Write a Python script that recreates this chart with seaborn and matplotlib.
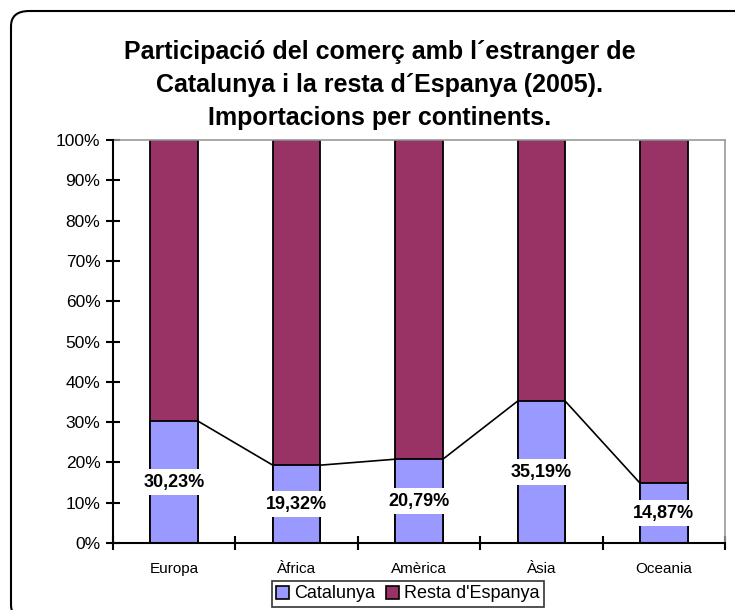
import matplotlib
matplotlib.use("Agg")
import matplotlib.pyplot as plt
import seaborn as sns
import pandas as pd
from matplotlib.patches import FancyBboxPatch, Patch
from matplotlib.ticker import FixedLocator, PercentFormatter

continents = ["Europa", "Àfrica", "Amèrica", "Àsia", "Oceania"]
catalunya = [30.23, 19.32, 20.79, 35.19, 14.87]
resta = [100 - v for v in catalunya]
labels = ["30,23%", "19,32%", "20,79%", "35,19%", "14,87%"]
series_names = ["Catalunya", "Resta d'Espanya"]
title = "Participació del comerç amb l´estranger de\nCatalunya i la resta d´Espanya (2005).\nImportacions per continents."

sns.set_theme(style="white")
plt.rcParams["font.family"] = ["Liberation Sans", "DejaVu Sans"]
plt.rcParams["text.color"] = "black"

col_cat = "#9999FF"
col_resta = "#993366"

df = pd.DataFrame({"continent": continents, "cat": catalunya, "resta": resta})
df["total"] = df["cat"] + df["resta"]

W, H = 735, 610
fig = plt.figure(figsize=(W / 100, H / 100), dpi=100)
fig.patch.set_facecolor("white")

frame = FancyBboxPatch((11 / W, -10 / H), (W + 20) / W - 11 / W, (H - 11 + 10) / H,
                       boxstyle="round,pad=0,rounding_size=0.025",
                       transform=fig.transFigure, facecolor="white",
                       edgecolor="black", linewidth=1.5, zorder=-5)
fig.patches.append(frame)

ax = fig.add_axes([113 / W, 1 - 543 / H, (725 - 113) / W, (543 - 140) / H])
ax.set_zorder(2)
ax.set_facecolor("none")

sns.barplot(data=df, x="continent", y="total", color=col_resta, width=0.39,
            edgecolor="black", linewidth=1.3, saturation=1, ax=ax, zorder=2)
n_first = len(ax.patches)
sns.barplot(data=df, x="continent", y="cat", color=col_cat, width=0.39,
            edgecolor="black", linewidth=1.3, saturation=1, ax=ax, zorder=3)
cat_bars = ax.patches[n_first:]

# series lines
for a, b in zip(cat_bars[:-1], cat_bars[1:]):
    ax.plot([a.get_x() + a.get_width(), b.get_x()], [a.get_height(), b.get_height()],
            color="black", lw=1.2, zorder=4)

for bar, lab in zip(cat_bars, labels):
    ax.text(bar.get_x() + bar.get_width() / 2, bar.get_height() / 2, lab,
            ha="center", va="center", fontsize=13, fontweight="bold", zorder=5,
            color="black", bbox=dict(facecolor="white", edgecolor="none", pad=3))

ax.set_xlim(-0.5, len(continents) - 0.5)
ax.set_ylim(0, 100)
ax.set_yticks(range(0, 101, 10))
ax.yaxis.set_major_formatter(PercentFormatter(decimals=0))
ax.xaxis.set_minor_locator(FixedLocator([i - 0.5 for i in range(len(continents) + 1)]))
ax.tick_params(axis="x", which="major", length=0, labelsize=11, pad=14, colors="black",
               bottom=True)
ax.tick_params(axis="x", which="minor", length=10, width=1.5, direction="inout",
               color="black", bottom=True)
ax.tick_params(axis="y", which="major", length=10, width=1.5, direction="inout",
               labelsize=12.5, colors="black", pad=4, left=True)
ax.set_xlabel("")
ax.set_ylabel("")

for s in ["left", "bottom"]:
    ax.spines[s].set_color("black")
    ax.spines[s].set_linewidth(1.5)
for s in ["top", "right"]:
    ax.spines[s].set_color("#999999")
    ax.spines[s].set_linewidth(1.2)
ax.spines["left"].set_zorder(6)
ax.spines["bottom"].set_zorder(6)

fig.text(380 / W, 1 - 85 / H, title, ha="center", va="center", fontsize=18,
         fontweight="bold", linespacing=1.47, color="black")

handles = [Patch(facecolor=col_cat, edgecolor="black", linewidth=1.2),
           Patch(facecolor=col_resta, edgecolor="black", linewidth=1.2)]
leg = fig.legend(handles, series_names, loc="center", bbox_to_anchor=(408 / W, 1 - 594 / H),
                 ncol=2, fontsize=13, frameon=True, fancybox=False, edgecolor="black",
                 handlelength=0.7, handleheight=0.7, handletextpad=0.3, columnspacing=0.6,
                 borderpad=0.25, borderaxespad=0)
leg.get_frame().set_linewidth(1.2)
for t in leg.get_texts():
    t.set_color("black")

fig.savefig("out.png", dpi=100, facecolor="white")
